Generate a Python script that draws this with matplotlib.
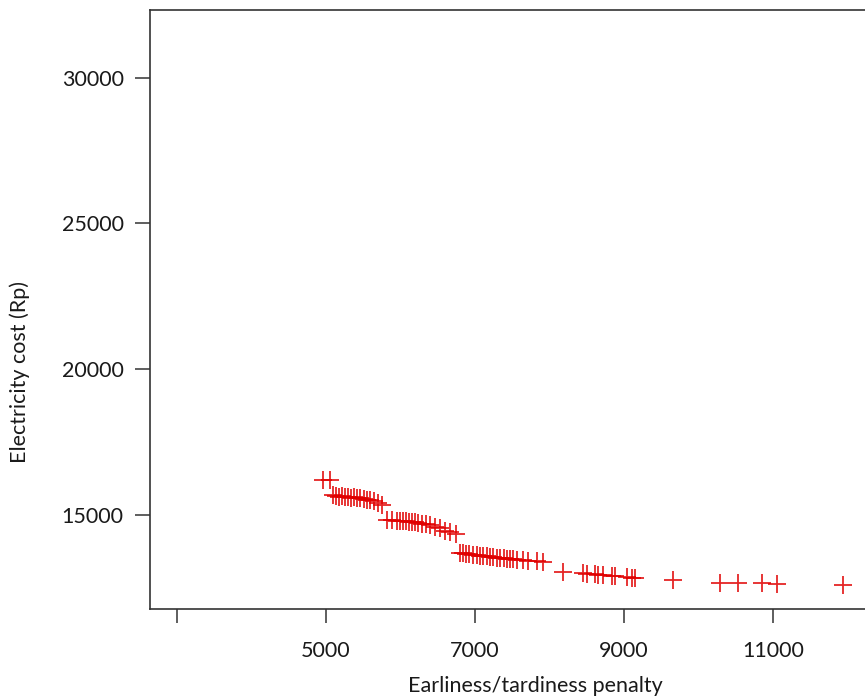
import matplotlib
matplotlib.use("Agg")
import matplotlib.pyplot as plt

# penalty (x) and electricity cost (y) of the solutions
penalty = [4960, 5050,
           5094, 5134, 5174, 5214, 5255, 5295, 5335, 5375, 5416, 5456,
           5510, 5550, 5590, 5644, 5697, 5751,
           5818, 5885, 5952, 5993, 6033, 6073, 6113, 6154, 6194, 6234,
           6288, 6341, 6395, 6462, 6529, 6597, 6664, 6744,
           6798, 6838, 6878, 6919, 6972, 7026, 7066, 7107, 7160, 7200,
           7241, 7294, 7335, 7388, 7429, 7469, 7509, 7563, 7643, 7710,
           7831, 7912,
           8180, 8449, 8502, 8610, 8650, 8717, 8838, 8878, 9039, 9106,
           9146, 9656, 10287, 10529, 10851, 11052, 11938]
cost = [16200, 16200,
        15690, 15650, 15620, 15650, 15600, 15620, 15590, 15600, 15570, 15580,
        15540, 15520, 15500, 15480, 15400, 15330,
        14830, 14820, 14800, 14790, 14780, 14780, 14760, 14760, 14750, 14740,
        14700, 14680, 14640, 14600, 14560, 14450, 14400, 14350,
        13700, 13690, 13670, 13650, 13640, 13620, 13610, 13590, 13580, 13560,
        13550, 13540, 13520, 13510, 13500, 13490, 13480, 13460, 13440, 13430,
        13410, 13390,
        13045, 13010, 12990, 12960, 12950, 12930, 12900, 12890, 12860, 12850,
        12840, 12770, 12670, 12670, 12650, 12630, 12600]

x_ticks = [3000, 5000, 7000, 9000, 11000]
x_tick_labels = ["", "5000", "7000", "9000", "11000"]
y_ticks = [15000, 20000, 25000, 30000]

plt.rcParams['font.family'] = ['Lato', 'DejaVu Sans']

fig = plt.figure(figsize=(8.65, 6.98), dpi=100)
ax = fig.add_axes([150 / 865, 1 - 609 / 698, 1 - 150 / 865, (609 - 10) / 698])

ax.scatter(penalty, cost, marker='+', s=180, color='#e00000', linewidths=1.3, alpha=0.85)

ax.set_xlim(2638, 12235)
ax.set_ylim(11775, 32322)

ax.set_xticks(x_ticks)
ax.set_xticklabels(x_tick_labels)
ax.set_yticks(y_ticks)

for side in ['left', 'top', 'bottom']:
    ax.spines[side].set_color('#333333')
    ax.spines[side].set_linewidth(1.2)
ax.spines['right'].set_visible(False)

ax.tick_params(axis='x', length=10, width=1.1, color='#333333', pad=13, labelsize=15.5, labelcolor='#1a1a1a')
ax.tick_params(axis='y', length=11, width=1.1, color='#333333', pad=8, labelsize=15.5, labelcolor='#1a1a1a')

fig.text(535 / 865, 1 - 686 / 698, "Earliness/tardiness penalty", ha='center', va='center',
         fontsize=15.5, color='#1a1a1a')
fig.text(20 / 865, 1 - 372 / 698, "Electricity cost (Rp)", ha='center', va='center',
         rotation=90, fontsize=15.5, color='#1a1a1a')

fig.savefig("out.png", dpi=100)
